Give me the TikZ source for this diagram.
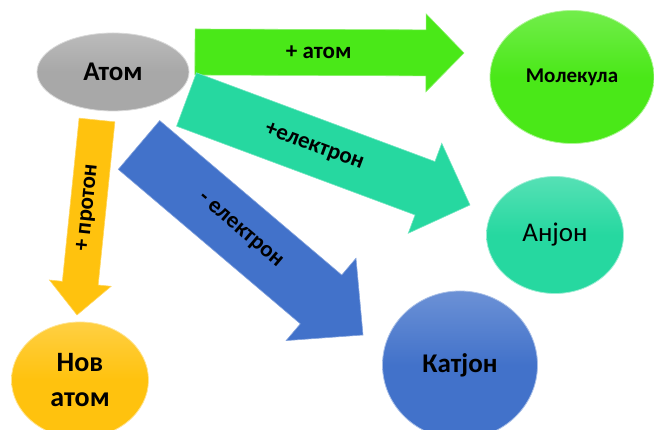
\documentclass[tikz,border=0pt]{standalone}
\usepackage{fontspec}
\setmainfont{Carlito}
\usetikzlibrary{shapes.geometric,calc}
\definecolor{Stone}{RGB}{168,168,168}
\definecolor{Lime}{RGB}{74,232,24}
\definecolor{Mint}{RGB}{38,216,160}
\definecolor{Royal}{RGB}{66,114,202}
\definecolor{Amber}{RGB}{255,194,14}
% block arrow: style, from, to, shaft half width, head half width, head length
\newcommand{\fatarrow}[6]{%
  \fill[#1] ($(#2)!#4!90:(#3)$) -- ($(#3)!#6!(#2)!#4!-90:(#2)$)
    -- ($(#3)!#6!(#2)!#5!-90:(#2)$) -- (#3) -- ($(#3)!#6!(#2)!#5!90:(#2)$)
    -- ($(#3)!#6!(#2)!#4!90:(#2)$) -- ($(#2)!#4!-90:(#3)$) -- cycle;}
\tikzset{
  ball/.style={ellipse,inner sep=0pt,draw=white!55!#1,line width=.8pt,
               top color=#1!78!white,bottom color=#1,middle color=#1,text=black},
  bigtxt/.style={font=\bfseries\fontsize{27}{32}\selectfont},
  band/.style={fill=#1,draw=#1!65!white,line width=.6pt},
  arrowlbl/.style={font=\bfseries\fontsize{23}{27}\selectfont,sloped,pos=.45,inner sep=1pt},
}
\begin{document}
\begin{tikzpicture}[x=1pt,y=1pt]
  \useasboundingbox (0,0) rectangle (654,430);
  % arrows first, balls on top
  \coordinate (atomS) at (195,378);   \coordinate (atomT) at (464,377);
  \coordinate (elplusS) at (186.5,330.5); \coordinate (elplusT) at (470,225);
  \coordinate (elminS) at (139,285);  \coordinate (elminT) at (363,95);
  \coordinate (protS) at (97,310);    \coordinate (protT) at (77,115);
  \fatarrow{band=Lime}{atomS}{atomT}{23pt}{39pt}{38pt}
  \fatarrow{band=Mint}{elplusS}{elplusT}{28.5pt}{48pt}{48pt}
  \fatarrow{band=Royal}{elminS}{elminT}{32pt}{54pt}{55pt}
  \fatarrow{band=Amber}{protS}{protT}{18pt}{31pt}{32pt}
  \path (atomS) -- node[arrowlbl,pos=.46] {+ атом} (atomT);
  \path (elplusS) -- node[arrowlbl] {+електрон} (elplusT);
  \path (elminS) -- node[arrowlbl] {- електрон} (elminT);
  \path (protS) -- node[arrowlbl] {+ протон} (protT);
  % the five particles
  \node[ball=Stone,minimum width=152pt,minimum height=78pt,bigtxt] (atom) at (113,358) {Атом};
  \node[ball=Lime,minimum width=164pt,minimum height=133pt,
        font=\bfseries\fontsize{21}{25}\selectfont] (molecule) at (572,353) {Молекула};
  \node[ball=Mint,minimum width=137pt,minimum height=117pt,
        font=\fontsize{27}{32}\selectfont] (anion) at (555,195) {Анјон};
  \node[ball=Royal,minimum width=155pt,minimum height=148pt,bigtxt] (cation) at (460,65) {Катјон};
  \node[ball=Amber,minimum width=137pt,minimum height=116pt,align=center,
        font=\bfseries\fontsize{28}{35}\selectfont] (newatom) at (80,50) {Нов\\атом};
\end{tikzpicture}
\end{document}
